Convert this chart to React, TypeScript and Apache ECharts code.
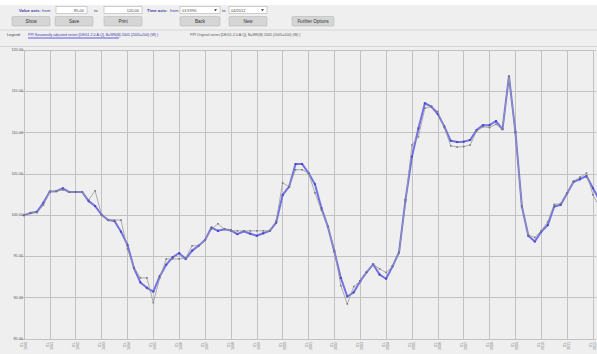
import React, { useEffect, useRef } from "react";
import * as echarts from "echarts";

const startYear = 1990;
const endYear = 2012;
const yTicks = [85, 90, 95, 100, 105, 110, 115, 120];

// Quarterly values, 1990 Q1 .. 2012 Q2
const seasonallyAdjusted = [
  100.0, 100.25, 100.4, 101.5, 102.85, 102.9, 103.25, 102.8, 102.8, 102.8,
  101.7, 101.1, 100.05, 99.4, 99.3, 98.0, 96.4, 93.6, 91.85, 91.2,
  90.75, 92.6, 94.0, 94.9, 95.4, 94.7, 95.7, 96.3, 97.0, 98.5,
  98.1, 98.3, 98.15, 97.7, 98.05, 97.75, 97.5, 97.8, 98.1, 99.1,
  102.45, 103.45, 106.2, 106.2, 105.1, 103.75, 100.85, 98.6, 95.6, 92.4,
  90.15, 90.65, 92.0, 93.1, 94.05, 92.8, 92.3, 93.8, 95.5, 101.85,
  107.1, 110.5, 113.55, 113.15, 112.25, 110.75, 109.0, 108.85, 108.9, 109.1,
  110.3, 110.9, 110.9, 111.4, 110.4, 116.8, 110.1, 101.05, 97.5, 96.8,
  98.0, 98.8, 101.05, 101.25, 102.65, 104.05, 104.35, 104.75, 103.25, 101.8,
];

const originalSeries = [
  100.0, 100.3, 100.3, 101.2, 102.85, 102.9, 103.05, 102.8, 102.8, 102.8,
  101.85, 102.95, 100.0, 99.4, 99.4, 99.4, 95.9, 93.7, 92.4, 92.4,
  89.4, 92.4, 94.7, 94.7, 94.7, 94.8, 96.3, 96.3, 97.0, 98.3,
  98.95, 98.3, 98.1, 98.1, 98.1, 98.1, 98.1, 98.1, 98.1, 99.3,
  103.9, 103.45, 105.5, 105.5, 105.1, 102.7, 100.6, 98.6, 95.8, 91.45,
  89.25, 91.35, 92.0, 93.1, 94.05, 93.5, 93.05, 93.8, 95.4, 101.6,
  108.5, 109.5, 112.95, 113.15, 112.55, 110.6, 108.4, 108.25, 108.3, 108.5,
  110.2, 110.7, 110.6, 111.0, 110.4, 116.8, 109.9, 101.05, 97.6, 97.3,
  98.1, 99.2, 101.3, 101.4, 102.65, 104.1, 104.6, 105.1, 102.45, 101.0,
];

const legendLabels = [
  "PPI Seasonally adjusted series [DE/01.2.0.A.Q], B=WS(B) 2005 (2005=100) (W) )",
  "PPI Original series [DE/01.2.0.A.Q], B=WS(B) 2005 (2005=100) (W) )",
];

const FONT = "Liberation Sans";

function toPoints(values: number[]) {
  return values.map((v, i) => [startYear + i * 0.25, v]);
}

function button(x: number, w: number, label: string) {
  return {
    type: "group",
    children: [
      {
        type: "rect",
        shape: { x, y: 16.5, width: w, height: 9.5, r: 1 },
        style: { fill: "#d5d5d5", stroke: "#b9b9b9", lineWidth: 0.6 },
      },
      {
        type: "text",
        x: x + w / 2,
        y: 21.3,
        style: {
          text: label,
          fill: "#333",
          fontSize: 4.5,
          fontFamily: FONT,
          align: "center",
          verticalAlign: "middle",
        },
      },
    ],
  };
}

function inputBox(x: number, w: number, value: string, align: "right" | "left") {
  return {
    type: "group",
    children: [
      {
        type: "rect",
        shape: { x, y: 6.5, width: w, height: 7 },
        style: { fill: "#ffffff", stroke: "#b0b0b0", lineWidth: 0.6 },
      },
      {
        type: "text",
        x: align === "right" ? x + w - 3 : x + 2,
        y: 10.2,
        style: {
          text: value,
          fill: "#444",
          fontSize: 4,
          fontFamily: FONT,
          align,
          verticalAlign: "middle",
        },
      },
    ],
  };
}

function selectBox(x: number, w: number, value: string) {
  return {
    type: "group",
    children: [
      inputBox(x, w, value, "left"),
      {
        type: "polygon",
        shape: { points: [[x + w - 6, 9.2], [x + w - 3, 9.2], [x + w - 4.5, 11.2]] },
        style: { fill: "#333" },
      },
    ],
  };
}

function label(x: number, y: number, text: string, fill: string, bold = false, size = 4.2) {
  return {
    type: "text",
    x,
    y,
    style: {
      text,
      fill,
      fontSize: size,
      fontFamily: FONT,
      fontWeight: bold ? "bold" : "normal",
      verticalAlign: "middle",
    },
  };
}

export default function App() {
  const ref = useRef<HTMLDivElement>(null);

  useEffect(() => {
    document.body.style.margin = "0";
    const chart = echarts.init(ref.current!, null, { renderer: "svg" });

    const graphics: any[] = [
      { type: "rect", shape: { x: 0, y: 0, width: 597, height: 5 }, style: { fill: "#ffffff" }, z: -10 },
      { type: "line", shape: { x1: 0, y1: 30, x2: 597, y2: 30 }, style: { stroke: "#d0d0d0", lineWidth: 0.8 } },
      { type: "line", shape: { x1: 0, y1: 46.5, x2: 597, y2: 46.5 }, style: { stroke: "#d0d0d0", lineWidth: 0.8 } },
      label(19, 10.2, "Value axis:", "#3a3aa8", true),
      label(42, 10.2, "from", "#3a3aa8"),
      inputBox(56, 31, "85.00", "right"),
      label(94, 10.2, "to", "#3a3aa8"),
      inputBox(104, 38, "120.00", "right"),
      label(147, 10.2, "Time axis:", "#3a3aa8", true),
      label(170, 10.2, "from", "#3a3aa8"),
      selectBox(180, 40, "01/1990"),
      label(222, 10.2, "to", "#3a3aa8"),
      selectBox(229, 38, "04/2012"),
      button(12, 38, "Show"),
      button(55, 38, "Save"),
      button(104, 38, "Print"),
      button(180, 40, "Back"),
      button(229, 38, "New"),
      button(292, 42, "Further Options"),
      label(7, 35, "Legend:", "#444", false, 3.8),
      label(28, 35, legendLabels[0], "#3a3aa8", false, 3.6),
      { type: "line", shape: { x1: 28, y1: 38, x2: 119, y2: 38 }, style: { stroke: "#5c5ce0", lineWidth: 1 } },
      label(190, 35, legendLabels[1], "#555", false, 3.6),
    ];

    chart.setOption({
      animation: false,
      backgroundColor: "#efefef",
      textStyle: { fontFamily: FONT },
      grid: { left: 24, top: 50, right: 0, bottom: 15, containLabel: false },
      xAxis: {
        type: "value",
        min: startYear,
        max: endYear + 0.125,
        interval: 1,
        axisLine: { show: false },
        axisTick: { show: false },
        splitLine: { show: true, showMaxLine: false, lineStyle: { color: "#c2c2c2", width: 1 } },
        axisLabel: {
          rotate: 90,
          fontSize: 3.6,
          lineHeight: 4,
          color: "#777",
          margin: 3,
          showMaxLabel: false,
          formatter: (v: number) => (Number.isInteger(v) ? `01.\n${v}` : ""),
        },
      },
      yAxis: {
        type: "value",
        min: yTicks[0],
        max: yTicks[yTicks.length - 1],
        interval: 5,
        axisLine: { show: false },
        axisTick: { show: true, length: 3, lineStyle: { color: "#c2c2c2" } },
        splitLine: { show: true, lineStyle: { color: "#c2c2c2", width: 1 } },
        axisLabel: {
          fontSize: 3.8,
          color: "#555",
          margin: 1,
          formatter: (v: number) => v.toFixed(2),
        },
      },
      graphic: graphics,
      series: [
        {
          name: legendLabels[0],
          type: "line",
          data: toPoints(seasonallyAdjusted),
          clip: true,
          symbol: "rect",
          symbolSize: 2,
          showSymbol: true,
          lineStyle: { color: "#6464e4", width: 2, opacity: 0.9 },
          itemStyle: { color: "#4a4ab8" },
          z: 2,
        },
        {
          name: legendLabels[1],
          type: "line",
          data: toPoints(originalSeries),
          clip: true,
          symbol: "rect",
          symbolSize: 1.6,
          showSymbol: true,
          lineStyle: { color: "#9a9a9a", width: 0.8 },
          itemStyle: { color: "#7a7a7a" },
          z: 3,
        },
      ],
    });

    return () => chart.dispose();
  }, []);

  return <div ref={ref} style={{ width: 597, height: 354, background: "#efefef" }} />;
}
